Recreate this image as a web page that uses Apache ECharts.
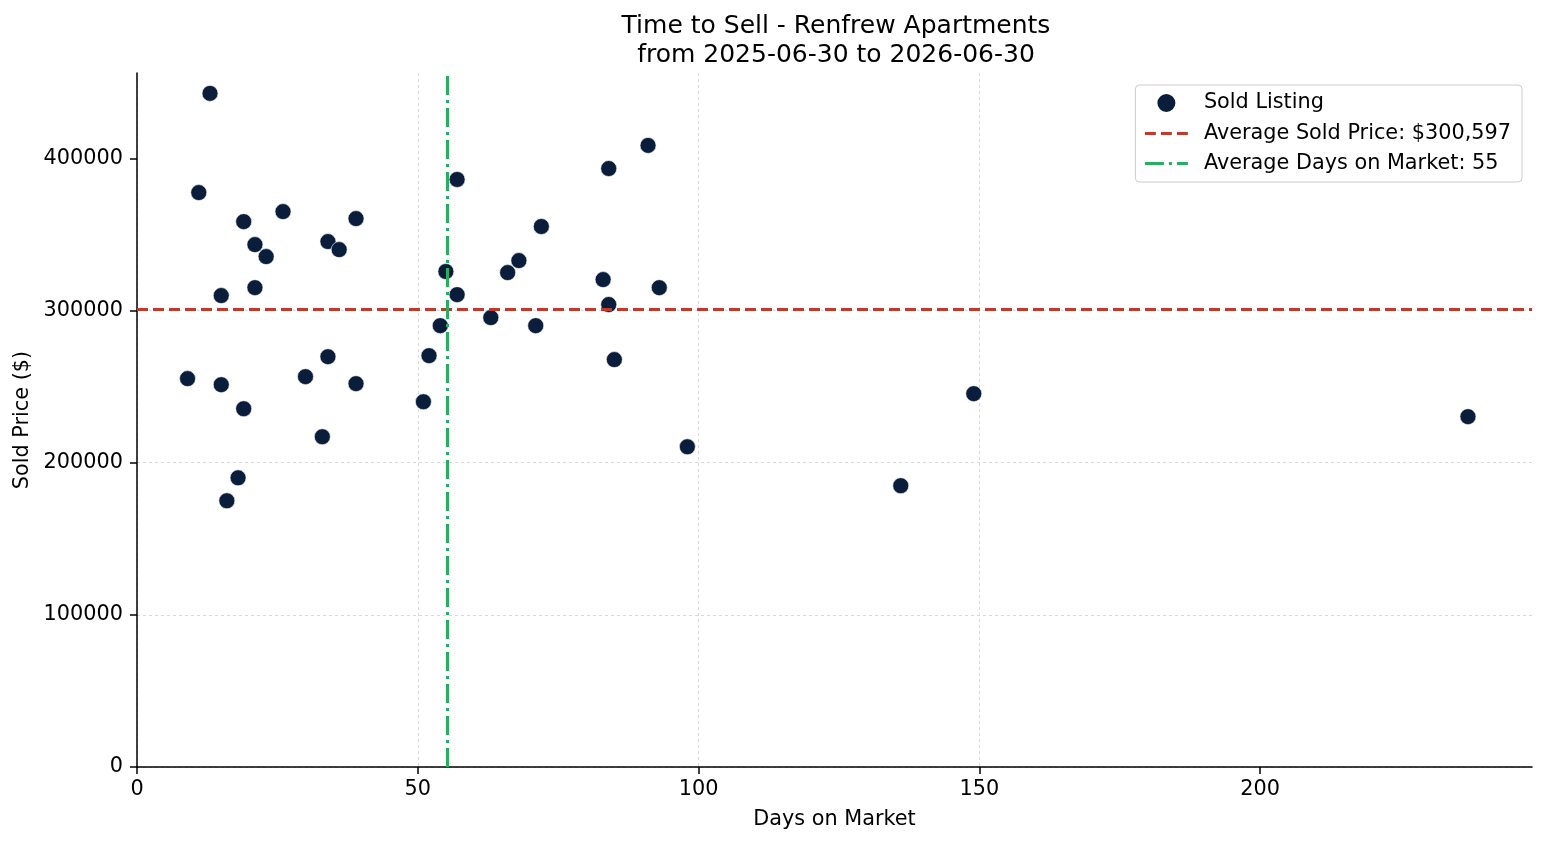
<!DOCTYPE html>
<html>
<head>
<meta charset="utf-8">
<script src="https://cdn.jsdelivr.net/npm/echarts@6/dist/echarts.min.js"></script>
<style>
html,body{margin:0;padding:0;background:#fff;}
#chart{width:1547px;height:845px;}
</style>
</head>
<body>
<div id="chart"></div>
<script>
// ---- data ----
const daysOnMarket = [9, 11, 13, 15, 15, 16, 18, 19, 19, 21, 21, 23, 26, 30, 33, 34, 34, 36, 39, 39,
  51, 52, 54, 55, 57, 57, 63, 66, 68, 71, 72, 83, 84, 84, 85, 91, 93, 98, 136, 149, 237];
const soldPrices = [255300, 377600, 442800, 309900, 251300, 175000, 190100, 358500, 235500, 343400,
  315100, 335500, 365100, 256600, 217100, 345400, 269700, 340100, 360500, 252000,
  240100, 270400, 290100, 325700, 386200, 310500, 295400, 325000, 332900, 290100,
  355300, 320400, 393400, 304000, 267800, 408600, 315100, 210500, 184900, 245400, 230300];
const avgSoldPrice = 300597;
const avgDays = 55.2;
const avgDaysLabel = 55;
const xTicks = [0, 50, 100, 150, 200];
const yTicks = [0, 100000, 200000, 300000, 400000];
const xMax = 248.4;
const yMax = 456200;

const points = daysOnMarket.map((d, i) => [d, soldPrices[i]]);
const FONT = 'DejaVu Sans';
const FS = 20.8;
const priceLabel = 'Average Sold Price: $' + avgSoldPrice.toLocaleString('en-US');
const daysLabel = 'Average Days on Market: ' + avgDaysLabel;

const chart = echarts.init(document.getElementById('chart'), null, {renderer: 'canvas'});
chart.setOption({
  animation: false,
  backgroundColor: '#fff',
  textStyle: {fontFamily: FONT},
  title: {
    text: 'Time to Sell - Renfrew Apartments\nfrom 2025-06-30 to 2026-06-30',
    left: 836, top: 12, padding: 0,
    textAlign: 'center',
    textStyle: {fontFamily: FONT, fontSize: 25, fontWeight: 'normal', color: '#000', lineHeight: 29}
  },
  legend: {
    orient: 'vertical',
    right: 25, top: 85,
    padding: [7, 11, 8, 8],
    itemGap: 9,
    itemWidth: 43,
    itemHeight: 20,
    backgroundColor: 'rgba(255,255,255,0.85)',
    borderColor: '#cccccc', borderWidth: 1, borderRadius: 4,
    lineStyle: {width: 3},
    textStyle: {fontFamily: FONT, fontSize: FS, color: '#000', lineHeight: 20, padding: [0, 0, 0, 11]},
    data: [
      {name: 'Sold Listing', icon: 'circle', itemStyle: {color: '#0a1e3c'}},
      {name: priceLabel},
      {name: daysLabel}
    ],
    selectedMode: false
  },
  grid: {left: 137, right: 15, top: 73, bottom: 78, containLabel: false},
  xAxis: {
    type: 'value', min: 0, max: xMax, interval: 50,
    name: 'Days on Market', nameLocation: 'middle', nameGap: 42,
    nameTextStyle: {fontFamily: FONT, fontSize: FS, color: '#000'},
    axisLine: {show: true, onZero: false, lineStyle: {color: '#000', width: 1.5}},
    axisTick: {show: true, inside: false, length: 7, lineStyle: {color: '#000', width: 1.5}, customValues: xTicks},
    axisLabel: {fontFamily: FONT, fontSize: FS, color: '#000', margin: 12, customValues: xTicks,
      formatter: v => String(v)},
    splitLine: {show: true, showMaxLine: false, lineStyle: {color: '#d9d9d9', type: [3, 3], width: 1}}
  },
  yAxis: {
    type: 'value', min: 0, max: yMax, interval: 100000,
    name: 'Sold Price ($)', nameLocation: 'middle', nameGap: 101,
    nameTextStyle: {fontFamily: FONT, fontSize: FS, color: '#000'},
    axisLine: {show: true, onZero: false, lineStyle: {color: '#000', width: 1.5}},
    axisTick: {show: true, inside: false, length: 7, lineStyle: {color: '#000', width: 1.5}, customValues: yTicks},
    axisLabel: {fontFamily: FONT, fontSize: FS, color: '#000', margin: 14, customValues: yTicks,
      formatter: v => String(v)},
    splitLine: {show: true, showMaxLine: false, lineStyle: {color: '#d9d9d9', type: [3, 3], width: 1}}
  },
  series: [
    {
      name: 'Sold Listing', type: 'scatter', data: points,
      symbol: 'circle', symbolSize: 16,
      itemStyle: {color: '#0a1e3c', borderColor: '#ffffff', borderWidth: 0.6, opacity: 1},
      z: 3
    },
    {
      name: priceLabel, type: 'line', data: [], symbol: 'none',
      lineStyle: {color: '#c0392b', width: 3, type: [11, 5]},
      itemStyle: {color: '#c0392b', opacity: 0},
      markLine: {
        silent: true, symbol: ['none', 'none'], label: {show: false},
        lineStyle: {color: '#c0392b', width: 3, type: [11, 5], opacity: 1},
        data: [{yAxis: avgSoldPrice}]
      },
      z: 2
    },
    {
      name: daysLabel, type: 'line', data: [], symbol: 'none',
      lineStyle: {color: '#27ae60', width: 3, type: [19, 5, 3, 5]},
      itemStyle: {color: '#27ae60', opacity: 0},
      markLine: {
        silent: true, symbol: ['none', 'none'], label: {show: false},
        lineStyle: {color: '#27ae60', width: 3, type: [19, 5, 3, 5], opacity: 1},
        data: [{xAxis: avgDays}]
      },
      z: 2
    }
  ]
});
</script>
</body>
</html>
